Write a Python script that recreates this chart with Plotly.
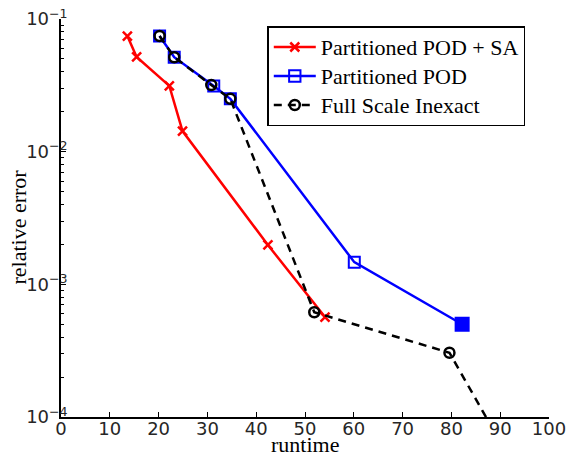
import plotly.graph_objects as go

# Partitioned POD + SA
sa_runtime = [13.6, 15.5, 22.2, 24.9, 42.4, 54.1]
sa_error = [0.0744, 0.0518, 0.0313, 0.0143, 0.00198, 0.000567]

# Partitioned POD
pod_runtime = [20.2, 23.2, 31.3, 34.7, 60.1, 82.2]
pod_error = [0.0744, 0.0515, 0.0313, 0.0250, 0.00147, 0.000500]

# Full Scale Inexact
full_runtime = [20.2, 23.2, 30.8, 34.7, 51.9, 79.6, 94.0]
full_error = [0.0744, 0.0515, 0.0318, 0.0250, 0.000616, 0.000305, 0.0000357]

series_names = ["Partitioned POD + SA", "Partitioned POD", "Full Scale Inexact"]

x_ticks = [0, 10, 20, 30, 40, 50, 60, 70, 80, 90, 100]
y_major = [1e-4, 1e-3, 1e-2, 1e-1]
y_labels = ["10<sup>−4</sup>", "10<sup>−3</sup>", "10<sup>−2</sup>", "10<sup>−1</sup>"]
y_minor = [k * 10.0 ** e for e in (-4, -3, -2) for k in range(2, 10)]

serif = "Liberation Serif"
sans = "DejaVu Sans"

pod_symbols = ["square-open"] * (len(pod_runtime) - 1) + ["square"]
pod_sizes = [11] * (len(pod_runtime) - 1) + [13]

# plot-area geometry in pixels (for placing axis titles)
L, R, T, B, W, H = 60.5, 28, 19, 42, 577, 459
pw, ph = W - L - R, H - T - B


def legend_label(s):
    return '<span style="font-size:22px">' + s + "</span>"


fig = go.Figure()
fig.add_trace(go.Scatter(
    x=sa_runtime, y=sa_error, mode="lines+markers", name=legend_label(series_names[0]),
    line=dict(color="#ff0000", width=2.5),
    marker=dict(symbol="x-thin-open", size=9, line=dict(color="#ff0000", width=2.5)),
))
fig.add_trace(go.Scatter(
    x=pod_runtime, y=pod_error, mode="lines+markers", name=legend_label(series_names[1]),
    line=dict(color="#0000ff", width=2.5),
    marker=dict(symbol=pod_symbols, size=pod_sizes, color="#0000ff", opacity=1,
                line=dict(color="#0000ff", width=2)),
))
fig.add_trace(go.Scatter(
    x=full_runtime, y=full_error, mode="lines+markers", name=legend_label(series_names[2]),
    line=dict(color="#000000", width=2.5, dash="8px,6px"),
    marker=dict(symbol="circle-open", size=10, color="#000000", line=dict(color="#000000", width=2.5)),
))

fig.update_layout(
    width=W, height=H,
    margin=dict(l=L, r=R, t=T, b=B),
    plot_bgcolor="white", paper_bgcolor="white",
    showlegend=True,
    legend=dict(
        x=(267 - L) / pw, y=(H - B - 26) / ph, xanchor="left", yanchor="top",
        bordercolor="black", borderwidth=1.5, bgcolor="white",
        itemwidth=42, entrywidth=237, entrywidthmode="pixels",
        font=dict(family=serif, size=20, color="black"),
    ),
    annotations=[
        dict(text="runtime", xref="paper", yref="paper", x=0.5, y=(H - B - 459) / ph,
             xanchor="center", yanchor="bottom", showarrow=False,
             font=dict(family=serif, size=22, color="black")),
        dict(text="relative error", xref="paper", yref="paper", x=(17 - L) / pw,
             y=(H - B - 227) / ph, xanchor="center", yanchor="middle", textangle=-90,
             showarrow=False, font=dict(family=serif, size=22, color="black")),
    ],
)
fig.update_xaxes(
    range=[0, 100], tickvals=x_ticks, ticks="inside", ticklen=5, tickwidth=1,
    tickcolor="black", showline=True, linecolor="black", linewidth=1.5,
    showgrid=False, zeroline=False, automargin=False, ticklabelstandoff=-5,
    tickfont=dict(family=sans, size=18, color="#262626"),
)
fig.update_yaxes(
    type="log", range=[-4, -1], tickvals=y_major, ticktext=y_labels,
    ticks="inside", ticklen=5, tickwidth=1, tickcolor="black",
    showline=True, linecolor="black", linewidth=1.5, showgrid=False, zeroline=False,
    automargin=False, ticklabelstandoff=-12,
    minor=dict(tickvals=y_minor, ticks="inside", ticklen=3, tickcolor="black", showgrid=False),
    tickfont=dict(family=sans, size=18, color="#262626"),
)

fig.write_html("out.html")
